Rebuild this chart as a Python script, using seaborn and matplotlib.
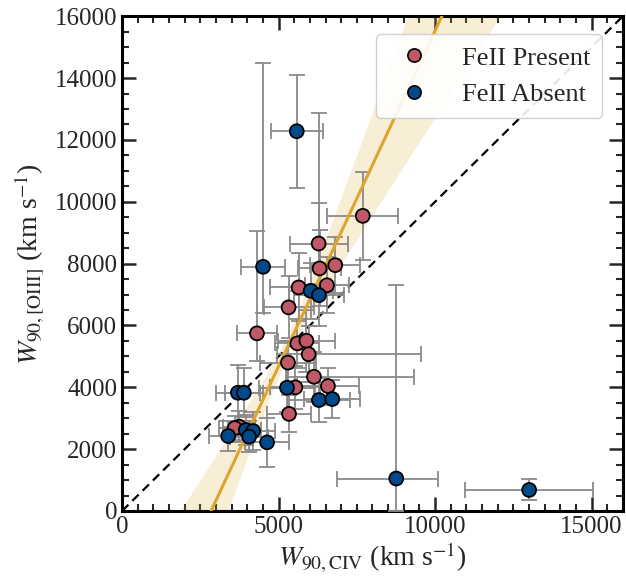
import numpy as np
import pandas as pd
import matplotlib
matplotlib.use("Agg")
import matplotlib.pyplot as plt
from matplotlib.lines import Line2D
import seaborn as sns

# ---- data ----
pres_x = [7690, 6280, 6310, 6810, 5640, 6545, 5320, 4310, 5600, 5890, 5960, 5300, 6130, 6577, 5536, 5334, 3740, 3600]
pres_y = [9545, 8650, 7845, 7950, 7230, 7300, 6585, 5745, 5420, 5505, 5070, 4800, 4340, 4040, 3998, 3140, 2725, 2680]
pres_xlo = [1130, 930, 700, 800, 900, 700, 800, 650, 700, 900, 1000, 900, 900, 1000, 800, 700, 500, 500]
pres_xhi = [1130, 930, 700, 800, 900, 700, 800, 650, 700, 900, 3600, 900, 3200, 1000, 800, 700, 500, 500]
pres_ylo = [1420, 1300, 1230, 900, 1100, 900, 1000, 900, 800, 1000, 900, 700, 800, 600, 700, 600, 500, 400]
pres_yhi = [1420, 1300, 1230, 900, 1100, 900, 1000, 3300, 800, 1000, 900, 700, 800, 600, 700, 600, 500, 400]

abs_x = [5580, 4505, 6025, 6290, 3700, 3890, 5270, 6290, 6716, 3390, 3953, 4187, 4059, 4633, 8760, 13006]
abs_y = [12280, 7896, 7120, 6980, 3824, 3824, 3986, 3588, 3620, 2424, 2618, 2586, 2403, 2219, 1050, 680]
abs_xlo = [830, 690, 700, 800, 700, 600, 900, 1000, 900, 600, 500, 700, 600, 700, 1880, 2035]
abs_xhi = [830, 690, 700, 800, 700, 600, 900, 1000, 900, 600, 500, 700, 600, 700, 1330, 2035]
abs_ylo = [1850, 1500, 900, 1000, 900, 800, 800, 700, 600, 500, 500, 600, 500, 800, 1050, 340]
abs_yhi = [1830, 6600, 900, 5880, 900, 800, 800, 700, 600, 500, 500, 600, 500, 800, 6250, 340]

# fit parameters (line y = slope*x + intercept, band half-width model)
fit_slope = 2.17
fit_intercept = -6170.0
band_x0 = 5300.0
band_s0 = 350.0
band_sb = 0.60

labels = ["FeII Present", "FeII Absent"]
col_pres = "#C05868"
col_abs = "#004A8C"
col_fit = "#DCA530"

# ---- style ----
sns.set_style("ticks")
plt.rcParams["font.family"] = ["Liberation Serif", "DejaVu Serif"]
plt.rcParams["mathtext.fontset"] = "stix"
plt.rcParams["xtick.direction"] = "in"
plt.rcParams["ytick.direction"] = "in"
plt.rcParams["xtick.top"] = True
plt.rcParams["ytick.right"] = True

fig, ax = plt.subplots(figsize=(6.26, 5.8), dpi=100)
fig.subplots_adjust(left=0.195, right=0.995, top=0.972, bottom=0.119)

df_p = pd.DataFrame({"x": pres_x, "y": pres_y, "g": labels[0]})
df_a = pd.DataFrame({"x": abs_x, "y": abs_y, "g": labels[1]})
df = pd.concat([df_p, df_a], ignore_index=True)

# fit band and line
xx = np.linspace(0, 16000, 400)
yy = fit_slope * xx + fit_intercept
hw = np.sqrt(band_s0**2 + (band_sb * (xx - band_x0))**2)
ax.fill_between(xx, yy - hw, yy + hw, color=col_fit, alpha=0.2, lw=0, zorder=1)

# 1:1 line
ax.plot([0, 16000], [0, 16000], ls=(0, (4, 2.5)), color="black", lw=1.6, zorder=2)

# error bars
ekw = dict(fmt="none", ecolor="#8a8a8a", elinewidth=1.3, capsize=6, capthick=1.3, zorder=3)
ax.errorbar(pres_x, pres_y, xerr=[pres_xlo, pres_xhi], yerr=[pres_ylo, pres_yhi], **ekw)
ax.errorbar(abs_x, abs_y, xerr=[abs_xlo, abs_xhi], yerr=[abs_ylo, abs_yhi], **ekw)

ax.plot(xx, yy, color=col_fit, lw=2.2, zorder=4)

sns.scatterplot(data=df, x="x", y="y", hue="g", palette={labels[0]: col_pres, labels[1]: col_abs},
                s=100, edgecolor="black", linewidth=1.3, ax=ax, zorder=5, legend=False)

ax.set_xlim(0, 16000)
ax.set_ylim(0, 16000)
ax.set_xticks([0, 5000, 10000, 15000])
ax.set_yticks(np.arange(0, 16001, 2000))
ax.set_xticks(np.arange(0, 16001, 500), minor=True)
ax.set_yticks(np.arange(0, 16001, 500), minor=True)
ax.tick_params(which="major", length=10, width=1.8, labelsize=18)
ax.tick_params(which="minor", length=5, width=1.5)
for s in ax.spines.values():
    s.set_linewidth(2.2)
    s.set_color("black")

ax.set_xlabel(r"$W_{90,\mathrm{CIV}}$ (km s$^{-1}$)", fontsize=20, labelpad=2)
ax.set_ylabel(r"$W_{90,\mathrm{[OIII]}}$ (km s$^{-1}$)", fontsize=20, labelpad=6)

handles = [Line2D([], [], ls="none", marker="o", markersize=9.5, markerfacecolor=col_pres,
                  markeredgecolor="black", markeredgewidth=1.2),
           Line2D([], [], ls="none", marker="o", markersize=9.5, markerfacecolor=col_abs,
                  markeredgecolor="black", markeredgewidth=1.2)]
ax.legend(handles, labels, loc="upper right", fontsize=19, frameon=True, fancybox=True,
          framealpha=0.9, edgecolor="#cccccc", handletextpad=0.8, borderpad=0.45,
          bbox_to_anchor=(0.985, 0.99))

fig.savefig("out.png", dpi=100)
